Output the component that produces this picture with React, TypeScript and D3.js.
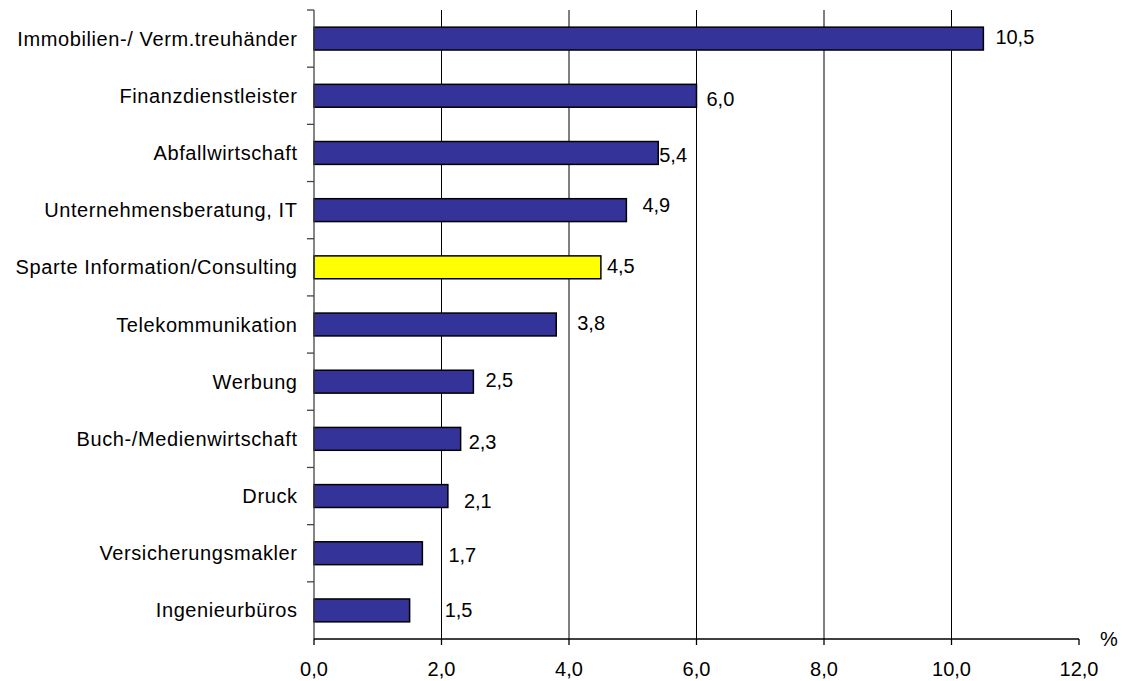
import React from "react";
import * as d3 from "d3";

const categories = [
  "Immobilien-/ Verm.treuhänder",
  "Finanzdienstleister",
  "Abfallwirtschaft",
  "Unternehmensberatung, IT",
  "Sparte Information/Consulting",
  "Telekommunikation",
  "Werbung",
  "Buch-/Medienwirtschaft",
  "Druck",
  "Versicherungsmakler",
  "Ingenieurbüros",
];
const values = [10.5, 6.0, 5.4, 4.9, 4.5, 3.8, 2.5, 2.3, 2.1, 1.7, 1.5];
const highlighted = [false, false, false, false, true, false, false, false, false, false, false];
const xTicks = [0, 2, 4, 6, 8, 10, 12];
const unitLabel = "%";
// label nudges (as rendered in the original) relative to the bar end
const labelDx = [12, 10, 1, 16, 6, 21, 12, 8, 16, 26, 35];
const labelDy = [-2, 3.5, 2, -5, -1, -2, -2, 3, 5, 2, 0];

const W = 1123;
const H = 681;
const margin = { left: 314, right: 44, top: 10, bottom: 42 };
const FONT = "'Liberation Sans', Arial, sans-serif";
const FS = 20;
const LS_CAT = 0.6;

const fmt = (v: number) => v.toFixed(1).replace(".", ",");

export default function App() {
  const x = d3.scaleLinear().domain([0, 12]).range([margin.left, W - margin.right]);
  const y = d3
    .scaleBand<string>()
    .domain(categories)
    .range([margin.top, H - margin.bottom])
    .paddingInner(0.6)
    .paddingOuter(0.3);
  const y0 = margin.top;
  const y1 = H - margin.bottom;
  const step = y.step();
  const boundaries = d3.range(categories.length).map((i) => y0 + i * step);

  return (
    <svg
      width={W}
      height={H}
      style={{ position: "absolute", left: 0, top: 0, display: "block", background: "#fff" }}
      fontFamily={FONT}
    >
      {/* gridlines */}
      {xTicks
        .filter((t) => t > 0 && t < 12)
        .map((t) => (
          <line key={"g" + t} x1={x(t)} x2={x(t)} y1={y0} y2={y1} stroke="#000" strokeWidth={1} />
        ))}
      {/* bars */}
      {categories.map((c, i) => (
        <rect
          key={c}
          x={x(0)}
          y={y(c)!}
          width={x(values[i]) - x(0)}
          height={y.bandwidth()}
          fill={highlighted[i] ? "#FFFF00" : "#333399"}
          stroke="#000"
          strokeWidth={1.5}
        />
      ))}
      {/* y axis */}
      <line x1={x(0)} x2={x(0)} y1={y0} y2={y1} stroke="#444" strokeWidth={1.3} />
      {boundaries.map((b, i) => (
        <line key={"yt" + i} x1={x(0) - 7} x2={x(0)} y1={b} y2={b} stroke="#444" strokeWidth={1.3} />
      ))}
      {/* x axis */}
      <line x1={x(0)} x2={x(12)} y1={y1} y2={y1} stroke="#000" strokeWidth={1.3} />
      {xTicks.map((t) => (
        <line key={"xt" + t} x1={x(t)} x2={x(t)} y1={y1} y2={y1 + 6} stroke="#000" strokeWidth={1.3} />
      ))}
      {xTicks.map((t) => (
        <text key={"xl" + t} x={x(t)} y={676} textAnchor="middle" fontSize={FS} fill="#000">
          {fmt(t)}
        </text>
      ))}
      <text x={x(12) + 21} y={646} fontSize={FS} fill="#000">
        {unitLabel}
      </text>
      {/* category labels */}
      {categories.map((c) => (
        <text
          key={"cl" + c}
          x={297 + LS_CAT}
          y={y(c)! + y.bandwidth() / 2 + 7}
          textAnchor="end"
          fontSize={FS}
          letterSpacing={LS_CAT}
          fill="#000"
        >
          {c}
        </text>
      ))}
      {/* value labels */}
      {categories.map((c, i) => (
        <text
          key={"vl" + c}
          x={x(values[i]) + labelDx[i]}
          y={y(c)! + y.bandwidth() / 2 + labelDy[i] + 7}
          fontSize={FS}
          fill="#000"
        >
          {fmt(values[i])}
        </text>
      ))}
    </svg>
  );
}
